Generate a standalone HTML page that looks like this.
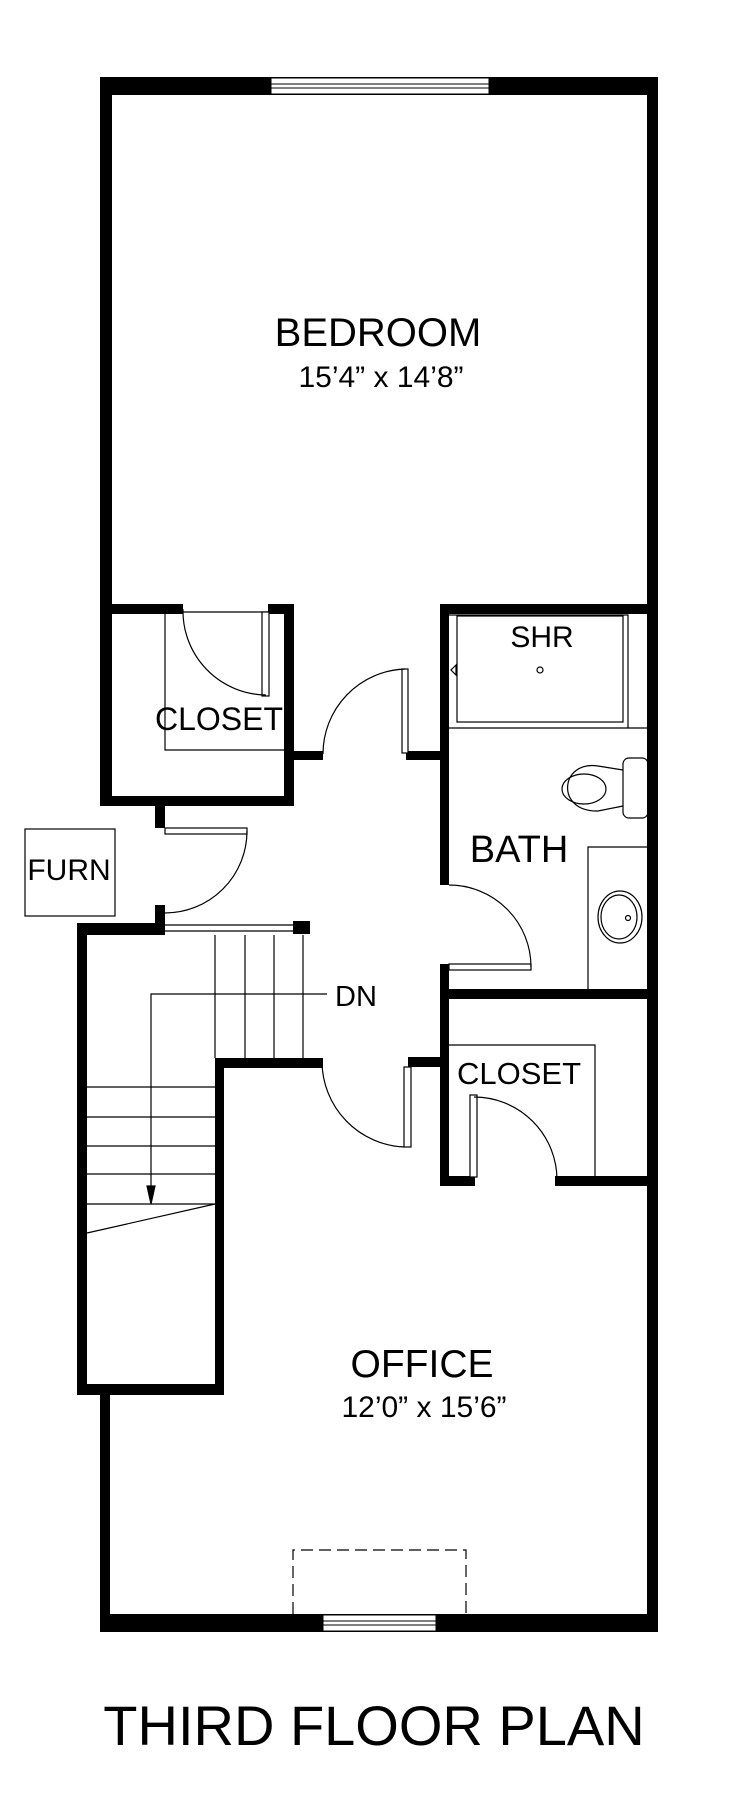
<!DOCTYPE html>
<html><head><meta charset="utf-8"><style>
html,body{margin:0;padding:0;background:#fff;}
svg{display:block;}
text{font-family:"Liberation Sans",Arial,sans-serif;fill:#000;}
</style></head><body>
<svg width="755" height="1810" viewBox="0 0 755 1810" xmlns="http://www.w3.org/2000/svg">
<g fill="#000">
<!-- top wall -->
<rect x="100" y="77" width="558" height="18"/>
<!-- right wall -->
<rect x="647" y="77" width="11" height="1555"/>
<!-- left bedroom wall -->
<rect x="100" y="77" width="12" height="729"/>
<!-- bedroom bottom walls -->
<rect x="100" y="604" width="83" height="10"/>
<rect x="268" y="604" width="26" height="10"/>
<rect x="440" y="604" width="218" height="10"/>
<!-- closet right wall -->
<rect x="284" y="604" width="10" height="202"/>
<rect x="100" y="796" width="194" height="10"/>
<!-- hall walls -->
<rect x="294" y="751" width="29" height="9"/>
<rect x="406" y="751" width="36" height="9"/>
<!-- bath left wall -->
<rect x="440" y="604" width="9" height="281"/>
<rect x="440" y="964" width="9" height="222"/>
<rect x="440" y="989" width="218" height="10"/>
<!-- closet2 -->
<rect x="440" y="1176" width="35" height="10"/>
<rect x="555" y="1176" width="103" height="10"/>
<rect x="408" y="1057" width="34" height="10"/>
<!-- furnace stubs -->
<rect x="155" y="806" width="10" height="22"/>
<rect x="155" y="905" width="10" height="30"/>
<!-- stair walls -->
<rect x="77" y="923" width="88" height="12"/>
<rect x="77" y="923" width="10" height="472"/>
<rect x="77" y="1384" width="147" height="11"/>
<rect x="215" y="1058" width="9" height="337"/>
<rect x="215" y="1058" width="108" height="10"/>
<rect x="293" y="921" width="17" height="13"/>
<!-- office -->
<rect x="100" y="1395" width="10" height="237"/>
<rect x="100" y="1614" width="558" height="18"/>
</g>
<g fill="#fff" stroke="#000" stroke-width="1">
<!-- windows -->
<rect x="271" y="78" width="218" height="16"/>
<line x1="271" y1="84" x2="489" y2="84"/><line x1="271" y1="88" x2="489" y2="88"/>
<rect x="323" y="1615" width="113" height="16"/>
<line x1="323" y1="1621" x2="436" y2="1621"/><line x1="323" y1="1625" x2="436" y2="1625"/>
</g>
<g fill="none" stroke="#000" stroke-width="1.2">
<!-- closet interior -->
<path d="M284 612 H165 V750 H284"/>
<!-- closet door -->
<rect x="262" y="612" width="7" height="84" fill="#fff"/>
<path d="M183 609 A84 84 0 0 0 266 695"/>
<!-- hall upper door -->
<rect x="402" y="669" width="6" height="84" fill="#fff"/>
<path d="M405 669 A85 85 0 0 0 323 754"/>
<!-- shower -->
<rect x="457" y="616" width="166" height="106"/>
<path d="M449 615 H628 V728 M449 728 H648"/>
<circle cx="540" cy="670" r="3"/>
<path d="M456 665 L451 670 L456 675 Z"/>
<!-- toilet -->
<rect x="623" y="758" width="25" height="60" rx="6"/>
<path d="M623 770 L598 766 C560 760 555 812 598 811 L623 806"/>
<ellipse cx="584" cy="789" rx="22" ry="15"/>
<!-- vanity -->
<path d="M648 847 H588 V989"/>
<ellipse cx="620" cy="917" rx="22" ry="26"/>
<ellipse cx="619" cy="917" rx="18" ry="22"/>
<circle cx="628" cy="918" r="2.5"/>
<!-- bath door -->
<rect x="449" y="964" width="82" height="6" fill="#fff"/>
<path d="M449 885 A82 82 0 0 1 531 967"/>
<!-- closet2 -->
<path d="M449 1045 H595 V1176"/>
<rect x="470" y="1095" width="7" height="82" fill="#fff"/>
<path d="M474 1097 A83 83 0 0 1 557 1180"/>
<!-- hall lower door -->
<rect x="404" y="1067" width="7" height="80" fill="#fff"/>
<path d="M322 1062 A86 86 0 0 0 404 1147"/>
<!-- furnace box & door -->
<rect x="25" y="829" width="90" height="87"/>
<rect x="165" y="828" width="82" height="6" fill="#fff"/>
<path d="M247 831 A82 82 0 0 1 165 913"/>
<!-- handrail -->
<path d="M165 925 H293 M165 931 H293"/>
<!-- stairs -->
<path d="M215 935 V1058 M245 935 V1058 M274 935 V1058 M303 935 V1058"/>
<path d="M87 1087 H215 M87 1117 H215 M87 1146 H215 M87 1174 H215 M87 1204 H215"/>
<path d="M87 1233 L215 1204"/>
<path d="M327 994 H151 V1186"/>
<path d="M147 1186 L151 1204 L155 1186 Z" fill="#000"/>
<!-- dashed -->
<path d="M293 1614 V1550 H466 V1614" stroke-dasharray="12 6"/>
</g>
<text x="378" y="346" font-size="40" text-anchor="middle">BEDROOM</text>
<text x="381" y="387" font-size="30" text-anchor="middle">15’4” x 14’8”</text>
<text x="219" y="730" font-size="32" text-anchor="middle">CLOSET</text>
<text x="542" y="647" font-size="30" text-anchor="middle">SHR</text>
<text x="519" y="862" font-size="38" text-anchor="middle">BATH</text>
<text x="69" y="880" font-size="30" text-anchor="middle">FURN</text>
<text x="356" y="1006" font-size="29" text-anchor="middle">DN</text>
<text x="519" y="1084" font-size="31" text-anchor="middle">CLOSET</text>
<text x="422" y="1377" font-size="39" text-anchor="middle">OFFICE</text>
<text x="424" y="1417" font-size="30" text-anchor="middle">12’0” x 15’6”</text>
<text x="374" y="1745" font-size="56" text-anchor="middle">THIRD FLOOR PLAN</text>
</svg>
</body></html>
